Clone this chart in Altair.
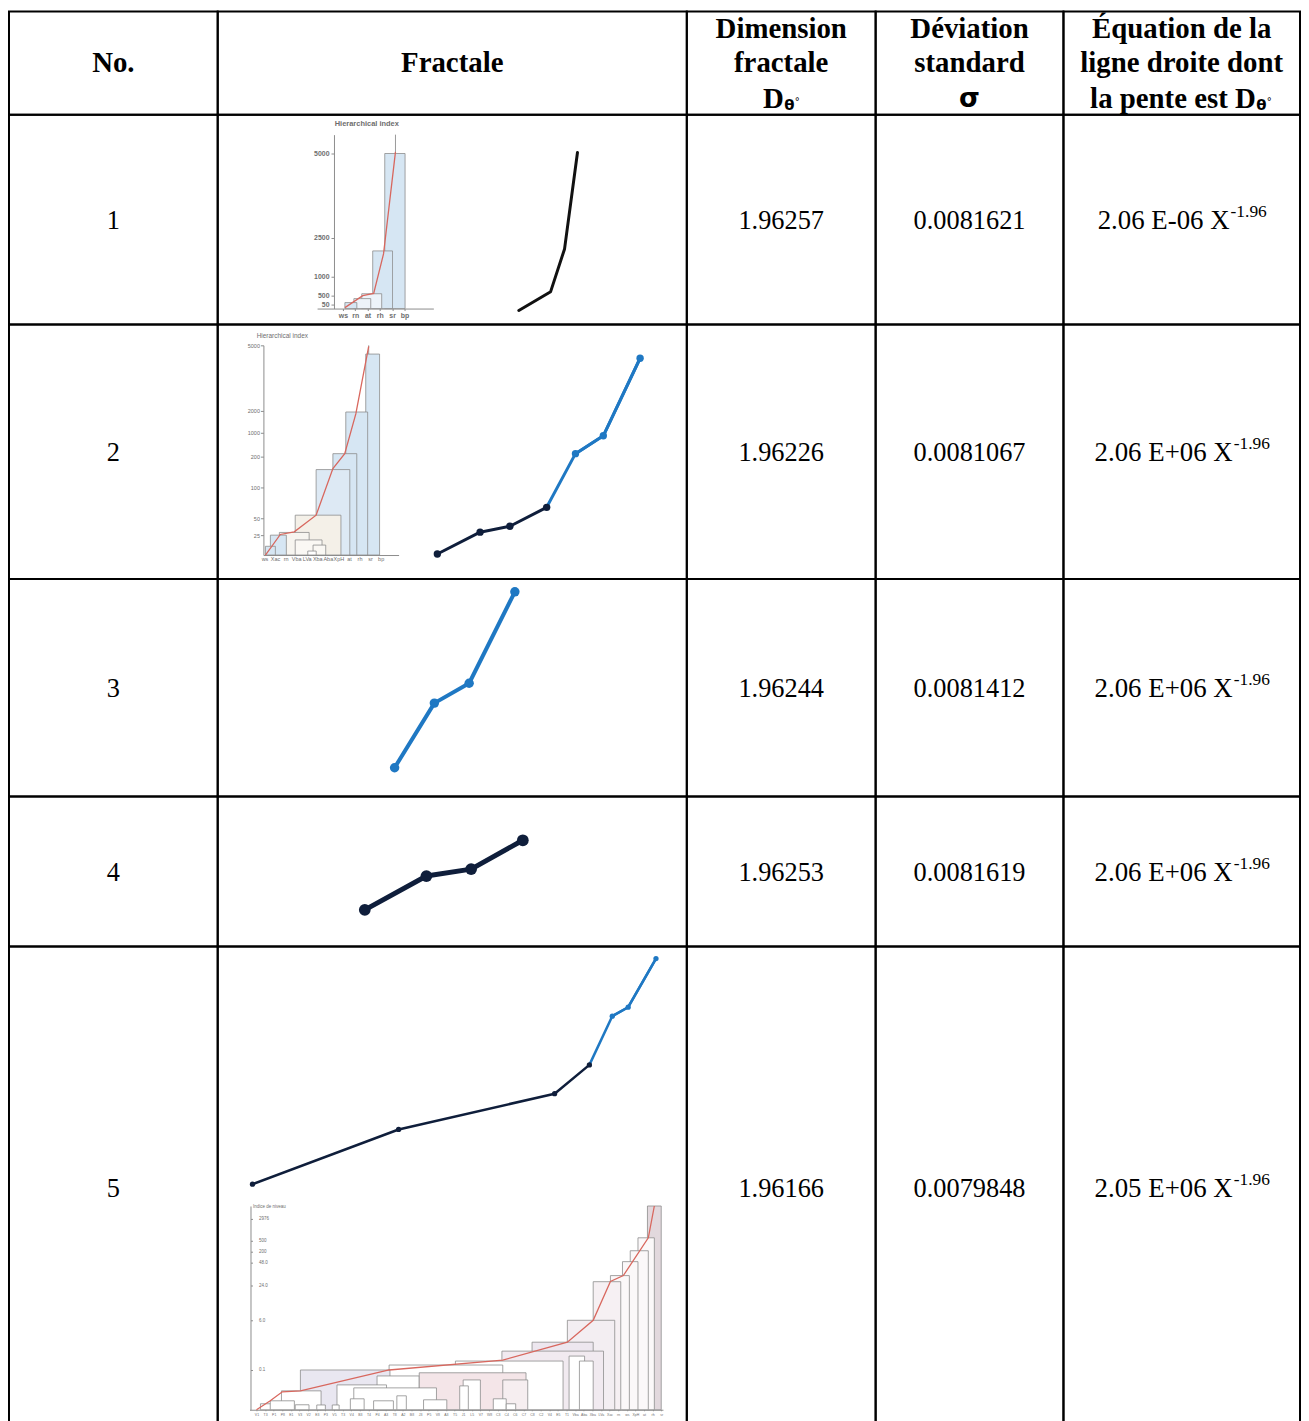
import json
import altair as alt
import pandas as pd

# ---------------- table texts ----------------
HEAD_NO = "No."
HEAD_FRACTALE = "Fractale"
HEAD_DIM = ["Dimension", "fractale", "D"]
HEAD_DEV = ["Déviation", "standard", "σ"]
HEAD_EQ = ["Équation de la", "ligne droite dont", "la pente est D"]
SUB_THETA = "θ"
SUB_DEG = "°"

ROW_NO = ["1", "2", "3", "4", "5"]
DIMENSION = ["1.96257", "1.96226", "1.96244", "1.96253", "1.96166"]
SIGMA = ["0.0081621", "0.0081067", "0.0081412", "0.0081619", "0.0079848"]
EQ_BASE = ["2.06 E-06 X", "2.06 E+06 X", "2.06 E+06 X", "2.06 E+06 X", "2.05 E+06 X"]
EQ_EXP = ["-1.96", "-1.96", "-1.96", "-1.96", "-1.96"]

# ---------------- inset data, row 1 ----------------
H1_TITLE = "Hierarchical index"
H1_LABELS = ["ws", "rn", "at", "rh", "sr", "bp"]
H1_TICKS = [50, 500, 1000, 2500, 5000]
H1_BOX_X1 = [3.40, 2.42, 1.53, 0.89, 0.16]
H1_BOX_X2 = [5.05, 4.03, 3.15, 2.26, 1.13]
H1_BOX_TOP = [5000, 2000, 550, 350, 150]
H1_BOX_FILL = ["#d6e6f3", "#d6e6f3", "#edf3f9", "#edf3f9", "#d6e6f3"]
H1_RED_X = [0.16, 1.61, 2.50, 3.30, 4.27]
H1_RED_Y = [12, 500, 560, 1885, 5050]
H1_STEM_X = [4.27]
H1_STEM_TOP = [5560]
L1_X = [0, 32, 46, 59]
L1_Y = [0, 19, 62, 159]

# ---------------- inset data, row 2 ----------------
H2_TITLE = "Hierarchical index"
H2_LABELS = ["ws", "Xac", "rn", "Vba", "LVa", "Xba", "Aba", "XpH", "at", "rh", "sr", "bp"]
H2_TICKS = [25, 50, 100, 200, 1000, 2000, 5000]
H2_BOX_X1 = [9.59, 7.70, 6.48, 4.89, 2.91, 1.41, 0.56, 0.09, 2.91, 4.60, 4.10]
H2_BOX_X2 = [10.90, 9.77, 8.74, 8.08, 7.24, 4.23, 2.07, 1.03, 5.45, 5.80, 4.90]
H2_BOX_TOP = [4600, 1950, 300, 158, 55, 29, 25, 11, 19, 12.5, 5]
H2_BOX_FILL = ["#d6e6f3", "#d6e6f3", "#d6e6f3", "#dde9f4", "#f4f0e8", "#f7f5f0",
               "#d6e6f3", "#d6e6f3", "#faf8f4", "#faf8f4", "#ffffff"]
H2_RED_X = [0.09, 1.5, 2.82, 4.89, 6.48, 7.6, 8.65, 9.87]
H2_RED_Y = [0, 26, 30, 55, 161, 300, 1864, 4950]
H2_STEM_X = [9.87]
H2_STEM_TOP = [5000]
L2_X = [0, 43, 73, 110, 139, 167, 204]
L2_Y = [0, 22, 28, 47, 101, 119, 197]

# ---------------- inset data, rows 3 and 4 ----------------
L3_X = [0, 40, 75, 121]
L3_Y = [0, 65, 85, 177]
L4_X = [0, 62, 107, 159]
L4_Y = [0, 34, 41, 70]

# ---------------- inset data, row 5 ----------------
L5_X = [0, 147, 304, 339, 362, 378, 406]
L5_Y = [0, 55, 91, 120, 169, 178, 227]
H5_TITLE = "Indice de niveau"
H5_LABELS = ["V1", "T3", "P1", "P8", "E1", "V3", "V2", "E3", "P3", "V5", "T3", "V4",
             "B3", "T4", "P4", "A3", "T8", "A2", "B8", "J3", "P5", "V8", "A3", "T5",
             "J1", "L5", "V7", "W8", "C3", "C4", "C6", "C7", "C8", "C2", "V4", "E5",
             "T1", "Vba", "Aba", "Xba", "LVa", "Xac", "rn", "ws", "XpH", "at", "rh", "sr"]
H5_TICKS = [0.1, 6.0, 24.0, 48.0, 200, 500, 2976]
H5_BOX_X1 = [45.4, 44.3, 43.4, 42.5, 41.1, 39.1, 36.1, 32.0, 28.5, 23.1, 15.4, 5.1,
             14.0, 18.9, 9.35, 11.3, 2.9, 24.0, 28.6, 36.3, 37.5, 0.46, 1.6, 4.5,
             10.9, 19.4, 27.5, 7.0, 8.8, 23.6, 13.6, 16.3, 29.0]
H5_BOX_X2 = [47.0, 46.2, 45.5, 44.3, 43.3, 42.3, 41.6, 39.1, 40.3, 35.6, 28.6, 15.5,
             18.9, 31.3, 15.1, 20.9, 7.5, 26.0, 31.5, 38.1, 39.1, 2.77, 4.4, 6.1,
             12.5, 22.1, 29.0, 8.0, 9.6, 24.6, 15.9, 17.4, 30.1]
H5_BOX_TOP = [4440, 838, 227, 62, 34.4, 28, 6.0, 3.4, 2.34, 1.16, 0.69, 0.1,
              0.085, 0.093, 0.0625, 0.055, 0.0475, 0.075, 0.075, 1.75, 1.16, 0.015, 0.0225, 0.0125,
              0.0275, 0.025, 0.0275, 0.012, 0.012, 0.06, 0.0225, 0.035, 0.015]
H5_BOX_FILL = ["#e2d8dd", "#fbf8f9", "#fbf8f9", "#fbf8f9", "#fbf8f9", "#f6f0f3", "#f3eef2",
               "#ede7ef", "#f1eaf0", "#ffffff", "#ffffff", "#e9e7f1",
               "#ffffff", "#f4e5e8", "#ffffff", "#ffffff", "#ffffff", "#ffffff", "#f6eef0",
               "#ffffff", "#ffffff", "#ffffff", "#ffffff", "#ffffff",
               "#ffffff", "#ffffff", "#ffffff", "#ffffff", "#ffffff", "#ffffff", "#ffffff",
               "#ffffff", "#ffffff"]
H5_RED_X = [0, 1.6, 3.0, 5.1, 15.4, 28.6, 36.1, 39.1, 41.1, 42.6, 45.5, 46.2]
H5_RED_Y = [0, 0.0225, 0.045, 0.0475, 0.1, 1.28, 3.4, 6.0, 28.2, 34.4, 838, 4440]

# ---------------- layout & style ----------------
COL_W = [210, 472, 190, 189, 238]
HEAD_H = 104
ROW_H = [211, 256, 219, 151, 486]
SERIF = "Liberation Serif"
SANS = "Liberation Sans"
NAVY = "#0f1e3b"
BLUE = "#1f78c3"
RED = "#d8675e"
GRID_GREY = "#8c8c8c"
LABEL_GREY = "#6e6e6e"
HEAD_SIZE = 29
BODY_SIZE = 26.5
EQ_SIZE = 27
EXP_SIZE = 17.5

# Times-compatible advance widths (em) for centring the equation text
TIMES_W = {"0": .5, "1": .5, "2": .5, "5": .5, "6": .5, "9": .5, ".": .25, " ": .25,
           "E": .611, "X": .722, "-": .333, "+": .564}


def tw(s, size):
    return sum(TIMES_W.get(c, .5) for c in s) * size


def sc(domain, rng):
    return alt.Scale(domain=domain, range=rng, nice=False, zero=False)


def txt(t, x, y, size, weight="normal", align="center", font=SERIF, color="black",
        baseline="middle"):
    return alt.Chart(pd.DataFrame({"t": [t]})).mark_text(
        font=font, fontSize=size, fontWeight=weight, align=align,
        baseline=baseline, color=color
    ).encode(text="t:N", x=alt.value(x), y=alt.value(y))


def cell(layers, w, h):
    return alt.layer(*layers).properties(width=w, height=h)


def dendrogram(x1, x2, top, fill, red_x, red_y, xdom, xrng, ydom, yrng,
               labels, ticks, yax, xax, stem_x=None, stem_top=None, label_expr=None):
    boxes = pd.DataFrame({"x1": x1, "x2": x2, "top": top, "fill": fill})
    yaxis_kw = dict(values=ticks, title=None, grid=False, labelOverlap=False, labelFlush=False,
                    domainColor=GRID_GREY, tickColor=GRID_GREY, labelColor=LABEL_GREY,
                    labelFont=SANS, **yax)
    if label_expr:
        yaxis_kw["labelExpr"] = label_expr
    else:
        yaxis_kw["format"] = "d"
    xaxis_kw = dict(values=list(range(len(labels))), title=None, grid=False,
                    labelOverlap=False, labelFlush=False, labelAngle=0,
                    labelExpr=json.dumps(labels) + "[datum.value]",
                    domainColor=GRID_GREY, tickColor=GRID_GREY, labelColor=LABEL_GREY,
                    labelFont=SANS, orient="bottom", **xax)
    layers = []
    if stem_x is not None:
        stem = pd.DataFrame({"x": stem_x, "y0": [0] * len(stem_x), "y1": stem_top})
        layers.append(alt.Chart(stem).mark_rule(color="#9a9a9a", strokeWidth=1).encode(
            x=alt.X("x:Q", scale=sc(xdom, xrng), axis=None),
            y=alt.Y("y0:Q", scale=sc(ydom, yrng), axis=None),
            y2="y1:Q"))
    layers.append(alt.Chart(boxes).mark_rect(stroke=GRID_GREY, strokeWidth=0.8).encode(
        x=alt.X("x1:Q", scale=sc(xdom, xrng), axis=alt.Axis(**xaxis_kw)),
        x2="x2:Q",
        y=alt.Y("top:Q", scale=sc(ydom, yrng), axis=alt.Axis(**yaxis_kw)),
        y2=alt.datum(0),
        fill=alt.Fill("fill:N", scale=None)))
    red = pd.DataFrame({"x": red_x, "y": red_y})
    layers.append(alt.Chart(red).mark_line(color=RED, strokeWidth=1.3).encode(
        x=alt.X("x:Q", scale=sc(xdom, xrng), axis=None),
        y=alt.Y("y:Q", scale=sc(ydom, yrng), axis=None)))
    return layers


def line_inset(xv, yv, xrng, yrng, pieces, width, psize):
    """pieces: list of (start, end, line colour, point colour or None)."""
    xdom = [min(xv), max(xv)]
    ydom = [min(yv), max(yv)]
    layers = []
    for a, b, lc, pc in pieces:
        d = pd.DataFrame({"x": xv[a:b + 1], "y": yv[a:b + 1]})
        layers.append(alt.Chart(d).mark_line(color=lc, strokeWidth=width, strokeCap="round",
                                             strokeJoin="round").encode(
            x=alt.X("x:Q", scale=sc(xdom, xrng), axis=None),
            y=alt.Y("y:Q", scale=sc(ydom, yrng), axis=None)))
    for a, b, lc, pc in pieces:
        if pc is None:
            continue
        d = pd.DataFrame({"x": xv[a:b + 1], "y": yv[a:b + 1]})
        layers.append(alt.Chart(d).mark_circle(color=pc, opacity=1, size=psize).encode(
            x=alt.X("x:Q", scale=sc(xdom, xrng), axis=None),
            y=alt.Y("y:Q", scale=sc(ydom, yrng), axis=None)))
    return layers


def fractal_cell(layers, w, h):
    return alt.layer(*layers).resolve_scale(x="independent", y="independent").properties(
        width=w, height=h)


# ---------------- header ----------------
dim_split = 97.5
eq_split = 193.5
cells = [
    cell([txt(HEAD_NO, COL_W[0] / 2, 52, HEAD_SIZE, "bold")], COL_W[0], HEAD_H),
    cell([txt(HEAD_FRACTALE, COL_W[1] / 2, 52, HEAD_SIZE, "bold")], COL_W[1], HEAD_H),
    cell([txt(HEAD_DIM[0], COL_W[2] / 2, 18, HEAD_SIZE, "bold"),
          txt(HEAD_DIM[1], COL_W[2] / 2, 52, HEAD_SIZE, "bold"),
          txt(HEAD_DIM[2], dim_split, 88, HEAD_SIZE, "bold", align="right"),
          txt(SUB_THETA, dim_split + 0.5, 94, 15, "bold", align="left", font="DejaVu Sans"),
          txt(SUB_DEG, dim_split + 11, 91, 10, "normal", align="left", font="DejaVu Sans")],
         COL_W[2], HEAD_H),
    cell([txt(HEAD_DEV[0], COL_W[3] / 2, 18, HEAD_SIZE, "bold"),
          txt(HEAD_DEV[1], COL_W[3] / 2, 52, HEAD_SIZE, "bold"),
          txt(HEAD_DEV[2], COL_W[3] / 2, 88, 27, "bold", font="DejaVu Sans")],
         COL_W[3], HEAD_H),
    cell([txt(HEAD_EQ[0], COL_W[4] / 2, 18, HEAD_SIZE, "bold"),
          txt(HEAD_EQ[1], COL_W[4] / 2, 52, HEAD_SIZE, "bold"),
          txt(HEAD_EQ[2], eq_split, 88, HEAD_SIZE, "bold", align="right"),
          txt(SUB_THETA, eq_split + 0.5, 94, 15, "bold", align="left", font="DejaVu Sans"),
          txt(SUB_DEG, eq_split + 11, 91, 10, "normal", align="left", font="DejaVu Sans")],
         COL_W[4], HEAD_H),
]

# ---------------- fractal insets ----------------
fr1 = (dendrogram(H1_BOX_X1, H1_BOX_X2, H1_BOX_TOP, H1_BOX_FILL, H1_RED_X, H1_RED_Y,
                  [-2.1, 7.35], [100, 217],
                  [0, 50, 500, 1000, 2500, 5000, 5560], [195, 191, 182, 163, 124, 39, 20],
                  H1_LABELS, H1_TICKS,
                  dict(orient="left", offset=-117, labelFontSize=7, labelFontWeight="bold",
                       tickSize=3, labelPadding=2),
                  dict(offset=-(ROW_H[0] - 195), labelFontSize=7, labelFontWeight="bold",
                       tickSize=2, labelPadding=1),
                  H1_STEM_X, H1_STEM_TOP)
       + [txt(H1_TITLE, 150, 9, 7.5, "bold", font=SANS, color=LABEL_GREY)]
       + line_inset(L1_X, L1_Y, [303, 362], [197, 38], [(0, 3, "#111111", None)], 3, 0))

fr2 = (dendrogram(H2_BOX_X1, H2_BOX_X2, H2_BOX_TOP, H2_BOX_FILL, H2_RED_X, H2_RED_Y,
                  [-0.1, 12.7], [46, 182],
                  [0, 25, 50, 100, 200, 1000, 2000, 5000], [232, 212, 195, 164, 133, 109, 87, 21],
                  H2_LABELS, H2_TICKS,
                  dict(orient="left", offset=-46, labelFontSize=5.5, tickSize=3, labelPadding=1),
                  dict(offset=-(ROW_H[1] - 232), labelFontSize=5.5, tickSize=0, labelPadding=2),
                  H2_STEM_X, H2_STEM_TOP)
       + [txt(H2_TITLE, 65, 12, 6.5, font=SANS, color=LABEL_GREY)]
       + line_inset(L2_X, L2_Y, [221, 425], [231, 34],
                    [(0, 3, NAVY, NAVY), (3, 6, BLUE, None), (4, 6, BLUE, BLUE)], 3, 55))

fr3 = line_inset(L3_X, L3_Y, [178, 299], [190, 13], [(0, 3, BLUE, BLUE)], 4, 90)
fr4 = line_inset(L4_X, L4_Y, [148, 307], [114, 44], [(0, 3, NAVY, NAVY)], 5, 140)

h5_expr = ("datum.value >= 1 && datum.value < 100 ? format(datum.value, '.1f') "
           ": toString(datum.value)")
fr5 = (line_inset(L5_X, L5_Y, [35, 441], [239, 12],
                  [(0, 3, NAVY, NAVY), (3, 6, BLUE, None), (4, 6, BLUE, BLUE)], 2.5, 28)
       + dendrogram(H5_BOX_X1, H5_BOX_X2, H5_BOX_TOP, H5_BOX_FILL, H5_RED_X, H5_RED_Y,
                    [-0.81, 47.2], [32, 448],
                    [0, 0.1, 6, 24, 48, 200, 500, 2976, 4440],
                    [466, 426, 376, 341, 318, 307, 296, 274, 261],
                    H5_LABELS, H5_TICKS,
                    dict(orient="right", offset=-(COL_W[1] - 33), labelFontSize=4.5,
                         tickSize=2, labelPadding=6),
                    dict(offset=-(ROW_H[4] - 466), labelFontSize=3.5, tickSize=1,
                         labelPadding=2),
                    label_expr=h5_expr)
       + [txt(H5_TITLE, 52, 262, 4.5, font=SANS, color=LABEL_GREY)])

FRACTALS = [fr1, fr2, fr3, fr4, fr5]

# ---------------- body rows ----------------
for i in range(5):
    h = ROW_H[i]
    yc = h / 2 + 1
    base_w = tw(EQ_BASE[i], EQ_SIZE)
    exp_w = tw(EQ_EXP[i], EXP_SIZE)
    split = COL_W[4] / 2 + (base_w - exp_w) / 2
    cells += [
        cell([txt(ROW_NO[i], COL_W[0] / 2, yc, BODY_SIZE)], COL_W[0], h),
        fractal_cell(FRACTALS[i], COL_W[1], h),
        cell([txt(DIMENSION[i], COL_W[2] / 2, yc, BODY_SIZE)], COL_W[2], h),
        cell([txt(SIGMA[i], COL_W[3] / 2, yc, BODY_SIZE)], COL_W[3], h),
        cell([txt(EQ_BASE[i], split, yc, EQ_SIZE, align="right"),
              txt(EQ_EXP[i], split + 1, yc - 9, EXP_SIZE, align="left")], COL_W[4], h),
    ]

chart = alt.concat(*cells, columns=5, spacing=0, bounds="flush", align="each").properties(
    padding={"left": 0, "top": -2, "right": 0, "bottom": 0},
    background="white",
).configure_view(stroke="black", strokeWidth=2)

chart.save("out.html", embed_options={"renderer": "svg", "actions": False})
